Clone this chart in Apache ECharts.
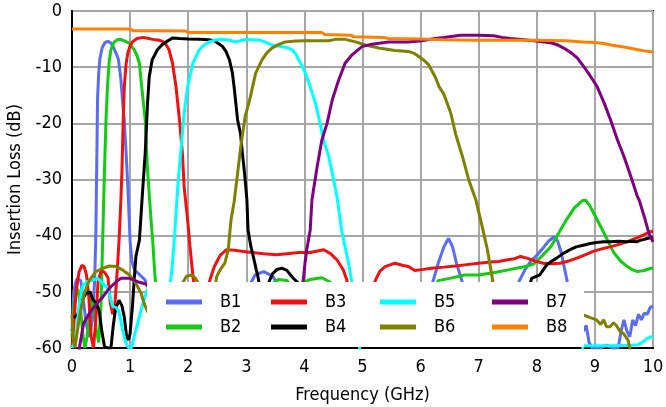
<!DOCTYPE html>
<html>
<head>
<meta charset="utf-8">
<script src="https://cdn.jsdelivr.net/npm/echarts@6/dist/echarts.min.js"></script>
<style>
  html, body { margin: 0; padding: 0; background: #ffffff; }
  #chart { width: 666px; height: 407px; }
</style>
</head>
<body>
<div id="chart"></div>
<script>
// Filter bank insertion loss, frequency in GHz vs loss in dB
const bandNames = ['B1', 'B2', 'B3', 'B4', 'B5', 'B6', 'B7', 'B8'];
const bandColors = ['#5a6cf2', '#11cc11', '#f01010', '#000000', '#00ffff', '#808000', '#800080', '#ff8000'];

const xTicks = { min: 0, max: 10, step: 1 };
const yTicks = { min: -60, max: 0, step: 10 };

const b1 = [[0,-57],[0.03,-50],[0.07,-48],[0.1,-47.6],[0.15,-48],[0.2,-52],[0.25,-56],[0.3,-58],[0.35,-55],
  [0.39,-48],[0.41,-40],[0.42,-32],[0.43,-24],[0.44,-15.5],[0.46,-11],[0.48,-8.5],[0.52,-6.5],[0.57,-5.6],
  [0.62,-5.4],[0.67,-5.7],[0.72,-6.6],[0.77,-7.8],[0.8,-8.7],[0.84,-12],[0.87,-16],[0.9,-19.5],[0.93,-25],
  [0.96,-31],[0.98,-36],[1.0,-41],[1.03,-44.5],[1.08,-46.2],[1.15,-46.8],[1.25,-47.8],[1.35,-50],[1.5,-55],
  [2.0,-58],[2.5,-57],[2.9,-52],[3.05,-49],[3.15,-47],[3.3,-46.4],[3.45,-47.2],[3.6,-49.5],[3.8,-54],
  [4.5,-58],[5.5,-57],[6.0,-55],[6.15,-50],[6.22,-47.9],[6.3,-45],[6.4,-42],[6.48,-40.5],[6.55,-42],
  [6.62,-45],[6.71,-48],[6.8,-52],[7.2,-56],[7.6,-52],[7.7,-48],[7.8,-46],[7.9,-44.5],[8.0,-43.5],
  [8.1,-42.3],[8.2,-41],[8.3,-40.2],[8.36,-41],[8.42,-43],[8.47,-45.5],[8.52,-48],[8.6,-53],[8.8,-57],
  [8.85,-56],[8.9,-59],[8.95,-60],[9.1,-60],[9.2,-59.5],[9.3,-60],[9.4,-60],[9.45,-57],[9.5,-55],
  [9.55,-57],[9.6,-58],[9.65,-55],[9.7,-56],[9.75,-54],[9.8,-55],[9.85,-53.8],[9.9,-54],[9.95,-52.8],[10,-52.5]];

const b2 = [[0,-58],[0.03,-53],[0.07,-50],[0.1,-49.5],[0.14,-52],[0.18,-57],[0.22,-60],[0.26,-58],[0.3,-54],
  [0.34,-51],[0.38,-53],[0.42,-57],[0.46,-59],[0.5,-52],[0.53,-40],[0.56,-28],[0.585,-19.4],[0.61,-13.5],
  [0.64,-9],[0.67,-6.9],[0.72,-5.6],[0.78,-5.1],[0.84,-5.05],[0.9,-5.3],[0.99,-5.75],[1.07,-6.9],[1.12,-8],
  [1.16,-9.3],[1.2,-13.5],[1.26,-19.4],[1.3,-28.3],[1.36,-37.2],[1.39,-41],[1.42,-46],[1.45,-50],[1.55,-56],
  [2.2,-58],[3.0,-57],[3.3,-52],[3.45,-48.5],[3.55,-47.8],[3.7,-48],[3.85,-50],[3.95,-48.5],[4.1,-47.8],
  [4.3,-47.5],[4.45,-48.3],[4.6,-52],[5.4,-57],[6.2,-52],[6.3,-48],[6.5,-47.6],[6.76,-47],[7.0,-47],
  [7.3,-46.5],[7.55,-46],[7.8,-45.5],[7.95,-45],[8.1,-43.5],[8.24,-42],[8.38,-39.5],[8.52,-37],[8.65,-35],
  [8.78,-33.8],[8.84,-33.7],[8.91,-34.6],[8.98,-36],[9.07,-37.8],[9.16,-39.6],[9.25,-41.5],[9.33,-43.1],
  [9.45,-44.6],[9.56,-45.5],[9.65,-46.1],[9.73,-46.4],[9.85,-46.2],[9.96,-45.8],[10,-45.8]];

const b3 = [[0,-60],[0.03,-56],[0.07,-50],[0.12,-46.5],[0.17,-45.3],[0.21,-45.5],[0.25,-47],[0.29,-51],
  [0.33,-58],[0.37,-60],[0.41,-55],[0.45,-48],[0.5,-46.3],[0.56,-46.5],[0.62,-47.5],[0.66,-52],[0.7,-54],
  [0.74,-52],[0.78,-46],[0.81,-40.8],[0.84,-34],[0.86,-28.3],[0.88,-20],[0.9,-13.5],[0.93,-9.5],[0.96,-7.5],
  [1.0,-6.2],[1.04,-5.5],[1.12,-4.9],[1.22,-4.7],[1.3,-4.85],[1.39,-5.05],[1.5,-5.2],[1.56,-5.4],[1.62,-6],
  [1.67,-6.9],[1.73,-9.3],[1.79,-13.5],[1.85,-19.4],[1.9,-25.3],[1.93,-31.3],[1.99,-37.2],[2.02,-40.8],
  [2.06,-45],[2.09,-48],[2.15,-54],[2.3,-54],[2.37,-48],[2.45,-45.5],[2.55,-43.5],[2.66,-42.5],[2.8,-42.6],
  [2.95,-42.8],[3.1,-43],[3.3,-43.2],[3.52,-43.4],[3.7,-43.2],[3.9,-43],[4.1,-43],[4.33,-42.5],[4.45,-43.2],
  [4.56,-44.3],[4.67,-46.1],[4.73,-47.9],[4.8,-52],[5.1,-52],[5.22,-48],[5.3,-46.3],[5.39,-45.5],[5.56,-44.9],
  [5.7,-45.3],[5.79,-45.5],[5.9,-46.2],[6.05,-46],[6.19,-45.8],[6.4,-45.6],[6.6,-45.4],[6.76,-45.2],[7.0,-44.9],
  [7.2,-44.7],[7.34,-44.6],[7.5,-44.3],[7.62,-44.1],[7.72,-43.7],[7.83,-44],[8.0,-44.6],[8.11,-44.9],[8.25,-45],
  [8.4,-44.9],[8.55,-44.5],[8.69,-44],[8.83,-43.4],[8.97,-42.8],[9.1,-42.4],[9.26,-42],[9.4,-41.6],[9.55,-41.1],
  [9.7,-40.5],[9.85,-39.8],[9.95,-39.3],[10,-39.2]];

const b4 = [[0,-54.5],[0.05,-54.5],[0.1,-54],[0.17,-51.5],[0.24,-50.3],[0.31,-50],[0.36,-51.4],[0.42,-52],
  [0.47,-53.5],[0.51,-56.8],[0.56,-59.8],[0.62,-60],[0.67,-60],[0.71,-56],[0.75,-53],[0.81,-51.5],[0.86,-52.5],
  [0.9,-54.5],[0.94,-58],[0.97,-58.6],[1.0,-57.5],[1.02,-55],[1.04,-52.6],[1.07,-47.9],[1.1,-43.7],[1.16,-40.8],
  [1.22,-31.3],[1.26,-25.3],[1.3,-16.4],[1.33,-11.7],[1.38,-8.7],[1.47,-6.9],[1.55,-6],[1.62,-5.5],[1.73,-4.8],
  [1.85,-4.9],[2.0,-5.0],[2.2,-5.05],[2.35,-5.1],[2.45,-5.3],[2.52,-5.8],[2.59,-6.3],[2.65,-7.2],[2.71,-8.7],
  [2.76,-11],[2.79,-13.5],[2.85,-19.4],[2.9,-21.8],[2.93,-25],[2.97,-28.9],[3.01,-33.6],[3.03,-39],[3.08,-42],
  [3.12,-43.7],[3.17,-46],[3.2,-47.3],[3.25,-50],[3.3,-52],[3.38,-48.5],[3.45,-46.8],[3.53,-46],[3.61,-45.8],
  [3.7,-46.2],[3.8,-47.5],[3.9,-48.5],[4.0,-52],[5.0,-57],[6.5,-57],[7.8,-52],[7.91,-47.6],[8.05,-47],
  [8.17,-45.2],[8.25,-44.6],[8.34,-44],[8.45,-43.2],[8.57,-42.5],[8.68,-42],[8.8,-41.7],[8.92,-41.4],[9.03,-41.2],
  [9.15,-41.1],[9.26,-41.1],[9.4,-41],[9.55,-41.1],[9.65,-41],[9.72,-41.1],[9.78,-40.8],[9.83,-40.7],[9.9,-40.5],
  [9.98,-40.3],[10,-40.2]];

const b5 = [[0,-60],[0.04,-59],[0.08,-57],[0.12,-52.6],[0.18,-49],[0.25,-48.2],[0.36,-47.9],[0.44,-47.6],
  [0.53,-48.5],[0.61,-49.3],[0.66,-51],[0.7,-52.6],[0.76,-52.8],[0.81,-53.5],[0.87,-56.8],[0.93,-59.2],[0.98,-60],
  [1.02,-60],[1.07,-58],[1.13,-55.6],[1.22,-52],[1.3,-49.5],[1.4,-50],[1.55,-54],[1.65,-52],[1.72,-46],
  [1.76,-40.8],[1.82,-31.3],[1.88,-24.2],[1.93,-18.2],[1.99,-13.5],[2.08,-9.3],[2.19,-6.9],[2.28,-6],[2.36,-5.5],
  [2.45,-5.2],[2.54,-5.05],[2.65,-5.1],[2.75,-5.3],[2.81,-5.5],[2.9,-5.3],[2.98,-5.05],[3.1,-5.1],[3.21,-5.15],
  [3.32,-5.5],[3.44,-6.05],[3.52,-6.2],[3.61,-6.35],[3.7,-6.5],[3.79,-6.9],[3.85,-7.6],[3.9,-8.7],[3.96,-9.8],
  [4.02,-11.1],[4.1,-13.5],[4.19,-16.4],[4.27,-20],[4.33,-23],[4.42,-25.9],[4.48,-28.9],[4.56,-33],[4.64,-39],
  [4.7,-42],[4.76,-44.9],[4.81,-47.9],[4.86,-52],[4.9,-56],[4.95,-60],[5.0,-64],[8.7,-64],[8.8,-59.6],[9.0,-59.6],
  [9.3,-59.6],[9.6,-59.5],[9.75,-59.4],[9.83,-58.9],[9.9,-58.3],[9.98,-58],[10,-58]];

const b6 = [[0,-54],[0.02,-58],[0.05,-60],[0.07,-58.6],[0.13,-54.4],[0.21,-50.3],[0.3,-47.9],[0.41,-46.4],
  [0.53,-45.8],[0.64,-45.4],[0.76,-45.5],[0.87,-46.1],[0.99,-47],[1.1,-48.5],[1.19,-50.3],[1.24,-52],[1.3,-53.5],
  [1.6,-56],[1.8,-52],[1.9,-48.5],[1.97,-47.2],[2.05,-47],[2.12,-47.5],[2.2,-49],[2.3,-53],[2.42,-52],[2.49,-47.3],
  [2.55,-46.1],[2.63,-44.9],[2.69,-42.5],[2.72,-39],[2.74,-37],[2.79,-34],[2.85,-28.9],[2.9,-24.5],[2.98,-18.8],
  [3.07,-15.3],[3.16,-11.1],[3.27,-8.7],[3.35,-7.5],[3.44,-6.6],[3.55,-6],[3.67,-5.5],[3.85,-5.35],[4.02,-5.3],
  [4.2,-5.3],[4.42,-5.3],[4.53,-5.05],[4.7,-5.05],[4.88,-5.5],[5.05,-6.05],[5.28,-6.6],[5.56,-7.05],[5.79,-7.2],
  [5.9,-7.6],[5.97,-8.1],[6.06,-8.8],[6.14,-9.6],[6.25,-11.7],[6.32,-13.5],[6.4,-14.8],[6.52,-18.2],[6.6,-21.8],
  [6.72,-25.9],[6.83,-30.1],[6.95,-33.6],[7.06,-38.4],[7.15,-42.5],[7.23,-47.3],[7.3,-52],[8.0,-57],[8.7,-55],
  [8.8,-54.1],[8.92,-54.6],[9.03,-55],[9.1,-55.8],[9.15,-55],[9.2,-56.2],[9.26,-56.2],[9.32,-55.5],[9.37,-56],
  [9.43,-57],[9.49,-57.4],[9.57,-58.6],[9.6,-60],[9.65,-63],[10,-63]];

const b7 = [[0.08,-63],[0.13,-59.8],[0.2,-55.6],[0.3,-53.8],[0.41,-52.3],[0.53,-50.9],[0.64,-49.4],[0.76,-48.2],
  [0.84,-47.6],[0.99,-47.6],[1.13,-48.2],[1.27,-48.6],[1.4,-50],[2.5,-56],[3.9,-54],[3.98,-47.9],[4.01,-44.9],
  [4.04,-42.5],[4.1,-39],[4.13,-33.6],[4.22,-27.7],[4.3,-23],[4.39,-20],[4.48,-15.8],[4.59,-12.3],[4.7,-9.3],
  [4.82,-7.8],[4.99,-6.35],[5.16,-5.9],[5.45,-5.5],[5.79,-5.5],[6.02,-5.3],[6.25,-4.9],[6.4,-4.7],[6.69,-4.3],
  [7.0,-4.3],[7.26,-4.4],[7.4,-4.7],[7.55,-4.9],[7.95,-5.3],[8.24,-5.65],[8.35,-6],[8.47,-6.65],[8.6,-7.5],
  [8.7,-8.4],[8.78,-9.5],[8.87,-10.8],[8.96,-12.2],[9.04,-13.5],[9.16,-16.4],[9.27,-19.4],[9.39,-23],[9.5,-25.9],
  [9.62,-29.5],[9.73,-33],[9.76,-33.6],[9.85,-36.6],[9.93,-39.6],[10,-41.1]];

const b8 = [[0,-3.2],[0.5,-3.2],[1.0,-3.2],[1.05,-3.5],[1.5,-3.5],[1.95,-3.55],[2.0,-3.85],[3.0,-3.85],
  [4.0,-3.85],[4.3,-3.85],[4.35,-4.2],[4.8,-4.3],[4.85,-4.6],[5.35,-4.7],[5.45,-4.9],[6.0,-5.0],[6.4,-5.1],
  [7.0,-5.2],[8.0,-5.2],[8.5,-5.3],[8.8,-5.5],[9.0,-5.6],[9.15,-5.8],[9.3,-6.1],[9.5,-6.4],[9.7,-6.8],
  [9.85,-7.1],[10,-7.3]];

const bandData = [b1, b2, b3, b4, b5, b6, b7, b8];

// Legend is laid out column by column, two entries per column
const legendColumns = [['B1', 'B2'], ['B3', 'B4'], ['B5', 'B6'], ['B7', 'B8']];
const legendLefts = [166, 271, 380, 492];

const fontFamily = "'DejaVu Sans Condensed', 'DejaVu Sans', sans-serif";
const fontSize = 18;

const chart = echarts.init(document.getElementById('chart'), null, { renderer: 'canvas' });

chart.setOption({
  animation: false,
  backgroundColor: '#ffffff',
  grid: {
    left: 72, right: 13, top: 11, bottom: 59,
    containLabel: false,
    outerBoundsMode: 'none',
    show: true,
    borderColor: '#000000',
    borderWidth: 2
  },
  xAxis: {
    type: 'value',
    min: xTicks.min, max: xTicks.max, interval: xTicks.step,
    name: 'Frequency (GHz)',
    nameLocation: 'middle',
    nameGap: 38,
    nameTextStyle: { fontFamily, fontSize, color: '#000' },
    axisLine: { show: true, onZero: false, lineStyle: { color: '#000', width: 2 } },
    axisTick: { show: false },
    axisLabel: { fontFamily, fontSize, color: '#000', margin: 10 },
    splitLine: { show: true, lineStyle: { color: '#a6a6a6', width: 2 } }
  },
  yAxis: {
    type: 'value',
    min: yTicks.min, max: yTicks.max, interval: yTicks.step,
    name: 'Insertion Loss (dB)',
    nameLocation: 'middle',
    nameGap: 41,
    nameRotate: 90,
    nameTextStyle: { fontFamily, fontSize, color: '#000' },
    axisLine: { show: true, onZero: false, lineStyle: { color: '#000', width: 2 } },
    axisTick: { show: false },
    axisLabel: { fontFamily, fontSize, color: '#000', margin: 10 },
    splitLine: { show: true, lineStyle: { color: '#a6a6a6', width: 2 } }
  },
  graphic: [{
    type: 'rect',
    z: 10,
    shape: { x: 147, y: 282, width: 437, height: 65 },
    style: { fill: '#ffffff' }
  }],
  legend: legendColumns.map((names, i) => ({
    data: names,
    left: legendLefts[i],
    top: 292,
    orient: 'vertical',
    icon: 'rect',
    itemWidth: 36,
    itemHeight: 5,
    itemGap: 5,
    padding: 0,
    selectedMode: false,
    z: 20,
    textStyle: { fontFamily, fontSize, color: '#000', lineHeight: 20, padding: [0, 0, 0, 13] }
  })),
  series: bandNames.map((name, i) => ({
    name,
    type: 'line',
    data: bandData[i],
    color: bandColors[i],
    symbol: 'none',
    showSymbol: false,
    clip: true,
    lineStyle: { width: 3, color: bandColors[i] },
    emphasis: { disabled: true }
  }))
});
</script>
</body>
</html>
